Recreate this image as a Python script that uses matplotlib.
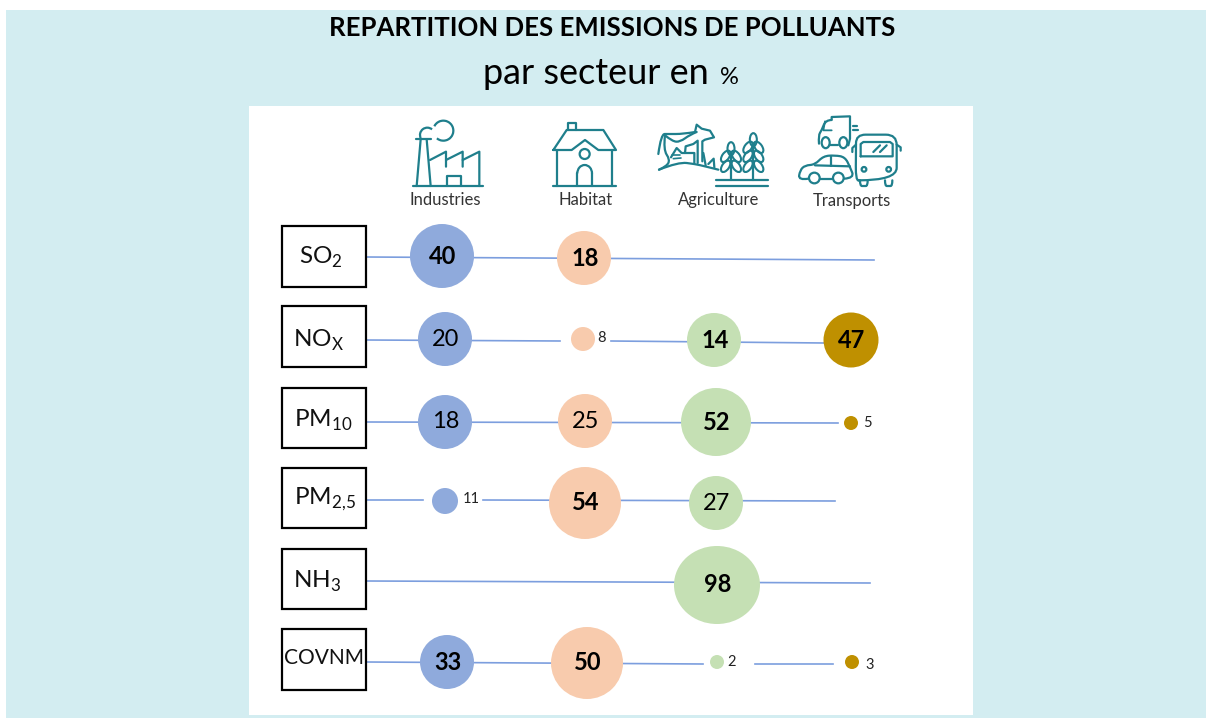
import matplotlib
matplotlib.use('Agg')
import matplotlib.pyplot as plt
from matplotlib.patches import Rectangle, Circle, Ellipse, PathPatch, Arc
from matplotlib.path import Path

plt.rcParams['font.family'] = ['Lato', 'DejaVu Sans']
plt.rcParams['mathtext.fontset'] = 'custom'
plt.rcParams['mathtext.rm'] = 'Lato'

# data
sectors = ['Industries', 'Habitat', 'Agriculture', 'Transports']
pollutants = ['SO$_{2}$', 'NO$_{\\mathrm{X}}$', 'PM$_{10}$', 'PM$_{2{,}5}$', 'NH$_{3}$', 'COVNM']
so2 = [40, 18, None, None]
nox = [20, 8, 14, 47]
pm10 = [18, 25, 52, 5]
pm25 = [11, 54, 27, None]
nh3 = [None, None, 98, None]
covnm = [33, 50, 2, 3]
values = [so2, nox, pm10, pm25, nh3, covnm]

# layout, all in image pixels
BG = '#d3edf1'
TEAL = '#1f7f8c'
LINE = '#7c9ede'
colors = ['#8faadc', '#f8cbad', '#c5e0b4', '#bf9000']
box_tops = [226, 306, 388, 468, 549, 629]
box_bottoms = [287, 367, 448, 528, 609, 690]
label_x = [321, 319, 323, 325, 317, 324]
label_y = [257, 340, 420, 499, 581, 658]
label_size = [17.5, 17.5, 17.5, 17.5, 17.5, 15]
centers_x = [[442, 584, 0, 0], [445, 583, 714, 851], [445, 585, 716, 851],
             [445, 585, 716, 0], [0, 0, 717, 0], [447, 587, 717, 852]]
centers_y = [[256, 258, 0, 0], [339, 339, 340, 340], [422, 421, 422, 423],
             [501, 503, 503, 0], [0, 0, 585, 0], [662, 663, 662, 662]]
radius = [[32, 27, 0, 0], [27, 12, 27, 27.5], [27, 27, 35, 7],
          [13, 36, 27, 0], [0, 0, 43, 0], [27, 36, 7, 7]]
radius_y = [[32, 27, 0, 0], [27, 12, 27, 27.5], [27, 27, 34, 7],
            [13, 36, 27, 0], [0, 0, 39, 0], [27, 36, 7, 7]]
bold = [[1, 1, 0, 0], [0, 0, 1, 1], [0, 0, 1, 0],
        [0, 1, 0, 0], [0, 0, 1, 0], [1, 1, 0, 0]]
small_dx = [[0, 0, 0, 0], [0, 18, 0, 0], [0, 0, 0, 16],
            [26, 0, 0, 0], [0, 0, 0, 0], [0, 0, 15, 18]]
small_dy = [[0, 0, 0, 0], [0, -1, 0, 0], [0, 0, 0, 0],
            [-2, 0, 0, 0], [0, 0, 0, 0], [0, 0, 0, 3]]
segments = [[(366, 257, 874, 260)],
            [(366, 340, 560, 341), (611, 341, 824, 343)],
            [(366, 422, 838, 423)],
            [(366, 500, 423, 500), (483, 500, 835, 501)],
            [(366, 581, 870, 583)],
            [(366, 662, 703, 664), (755, 664, 833, 664)]]
header_x = [445, 586, 719, 852]
header_y = [200, 200, 200, 201]

fig = plt.figure(figsize=(12.06, 7.2), dpi=100)
ax = fig.add_axes([0, 0, 1, 1])
ax.set_xlim(0, 1206)
ax.set_ylim(720, 0)
ax.axis('off')

ax.add_patch(Rectangle((6, 10), 1200, 708, color=BG, lw=0))
ax.add_patch(Rectangle((249, 106), 724, 609, color='white', lw=0))

ax.text(612, 36, 'REPARTITION DES EMISSIONS DE POLLUANTS', ha='center', va='baseline',
        fontsize=18.5, color='black', fontweight='bold')
ax.text(483, 84, 'par secteur en', ha='left', va='baseline', fontsize=26, color='black')
ax.text(720, 84, '%', ha='left', va='baseline', fontsize=17, color='black')


def pl(pts, ox, oy, lw=1.6):
    ax.plot([ox + p[0] / 3 for p in pts], [oy + p[1] / 3 for p in pts],
            color=TEAL, lw=lw, solid_capstyle='round', solid_joinstyle='round')


def curve(pts, ox, oy, lw=1.6):
    # smooth line through the midpoints of the given control points
    xy = [(ox + p[0] / 3, oy + p[1] / 3) for p in pts]
    verts = [xy[0]]
    codes = [Path.MOVETO]
    for k in range(1, len(xy) - 1):
        end = xy[k + 1] if k == len(xy) - 2 else ((xy[k][0] + xy[k + 1][0]) / 2, (xy[k][1] + xy[k + 1][1]) / 2)
        verts += [xy[k], end]
        codes += [Path.CURVE3, Path.CURVE3]
    ax.add_patch(PathPatch(Path(verts, codes), fill=False, ec=TEAL, lw=lw, capstyle='round'))


def ring(cx, cy, r, ox, oy, lw=1.6):
    ax.add_patch(Circle((ox + cx / 3, oy + cy / 3), r / 3, fill=False, ec=TEAL, lw=lw))


def arc(cx, cy, w, h, t1, t2, ox, oy):
    ax.add_patch(Arc((ox + cx / 3, oy + cy / 3), w / 3, h / 3, theta1=t1, theta2=t2,
                     color=TEAL, lw=1.6))


def draw_factory(ox=390, oy=105):
    pl([(68, 243), (278, 243)], ox, oy)
    pl([(80, 243), (92, 103)], ox, oy)
    pl([(122, 243), (110, 103)], ox, oy)
    pl([(78, 103), (122, 103)], ox, oy)
    pl([(120, 165), (168, 140), (168, 185)], ox, oy)
    pl([(168, 165), (218, 140), (218, 185)], ox, oy)
    pl([(218, 165), (268, 140), (268, 243)], ox, oy)
    pl([(170, 243), (170, 212), (212, 212), (212, 243)], ox, oy)
    arc(112, 90, 44, 44, 155, 310, ox, oy)
    arc(160, 77, 60, 60, 206, 130, ox, oy)


def draw_house(ox=390, oy=105):
    pl([(488, 243), (678, 243)], ox, oy)
    pl([(502, 135), (502, 243)], ox, oy)
    pl([(665, 135), (665, 243)], ox, oy)
    pl([(490, 135), (530, 75), (640, 75), (678, 135), (625, 135), (585, 105), (545, 135), (490, 135)], ox, oy)
    pl([(535, 75), (535, 53), (558, 53), (558, 75)], ox, oy)
    ring(584, 147, 15, ox, oy)
    pl([(562, 243), (562, 205)], ox, oy)
    pl([(606, 243), (606, 205)], ox, oy)
    arc(584, 205, 44, 50, 180, 360, ox, oy)


def wheat(x, rows, top, ox, oy):
    pl([(x, 185), (x, rows[0] - 12)], ox, oy)
    ax.add_patch(Ellipse((ox + x / 3, oy + top / 3), 7, 13, fill=False, ec=TEAL, lw=1.5))
    for yy in rows:
        for sgn in (-1, 1):
            ax.add_patch(Ellipse((ox + (x + sgn * 16) / 3, oy + yy / 3), 7, 13, angle=sgn * -35,
                                 fill=False, ec=TEAL, lw=1.5))


def draw_farm(ox=655, oy=118):
    curve([(10, 108), (18, 48), (40, 48), (85, 48), (120, 42)], ox, oy)
    pl([(120, 42), (125, 20), (140, 32), (165, 38), (177, 58), (150, 65), (142, 70), (142, 130)], ox, oy)
    curve([(30, 52), (52, 70), (75, 72), (105, 50), (125, 42)], ox, oy)
    curve([(30, 52), (25, 95), (45, 125), (35, 145), (12, 155)], ox, oy)
    curve([(12, 155), (70, 132), (120, 138), (150, 145), (190, 155)], ox, oy)
    pl([(48, 118), (65, 90), (80, 105), (118, 105), (118, 135)], ox, oy)
    pl([(90, 105), (92, 85), (115, 78), (128, 68), (128, 135)], ox, oy)
    pl([(50, 112), (75, 112)], ox, oy, lw=1.2)
    pl([(55, 122), (78, 120)], ox, oy, lw=1.2)
    pl([(145, 105), (152, 142)], ox, oy)
    pl([(160, 138), (176, 122), (178, 148)], ox, oy)
    wheat(228, [115, 145], 92, ox, oy)
    wheat(295, [88, 115, 145], 65, ox, oy)
    pl([(182, 185), (340, 185)], ox, oy)
    pl([(182, 205), (340, 205)], ox, oy)


def draw_vehicles(ox=795, oy=112):
    # truck
    pl([(110, 22), (110, 15), (165, 13), (165, 80), (160, 100)], ox, oy)
    pl([(105, 100), (130, 100)], ox, oy)
    curve([(110, 24), (92, 24), (80, 55), (70, 70), (72, 95)], ox, oy)
    pl([(90, 28), (85, 55), (110, 55)], ox, oy, lw=1.3)
    ax.add_patch(Ellipse((ox + 92 / 3, oy + 92 / 3), 8, 11, fill=False, ec=TEAL, lw=1.6))
    ax.add_patch(Ellipse((ox + 145 / 3, oy + 92 / 3), 8, 11, fill=False, ec=TEAL, lw=1.6))
    pl([(175, 43), (187, 43)], ox, oy)
    pl([(173, 55), (190, 55)], ox, oy)
    # bus
    curve([(190, 205), (182, 205), (183, 120), (183, 68), (240, 68), (305, 68), (305, 130), (305, 205), (190, 205)], ox, oy)
    pl([(183, 98), (172, 108), (172, 120)], ox, oy)
    pl([(305, 98), (317, 106), (317, 116)], ox, oy)
    pl([(197, 133), (197, 96), (205, 90), (285, 90), (293, 96), (293, 133), (197, 133)], ox, oy)
    pl([(235, 120), (255, 100)], ox, oy)
    pl([(255, 120), (275, 100)], ox, oy)
    ring(207, 172, 7, ox, oy)
    ring(281, 172, 7, ox, oy)
    curve([(195, 205), (195, 222), (207, 222), (218, 222), (218, 205)], ox, oy)
    curve([(270, 205), (270, 222), (281, 222), (292, 222), (292, 205)], ox, oy)
    # car
    curve([(40, 200), (10, 205), (15, 175), (30, 160), (60, 158), (85, 132), (120, 130),
           (150, 135), (165, 165), (178, 198), (148, 200)], ox, oy)
    pl([(75, 200), (112, 200)], ox, oy)
    pl([(60, 160), (165, 163)], ox, oy)
    pl([(108, 132), (108, 162)], ox, oy)
    ring(58, 198, 16, ox, oy)
    ring(130, 198, 16, ox, oy)


draw_factory()
draw_house()
draw_farm()
draw_vehicles()

for name, x, y in zip(sectors, header_x, header_y):
    ax.text(x, y, name, ha='center', va='center', fontsize=12, color='#333333')

for i, row in enumerate(values):
    ax.add_patch(Rectangle((282, box_tops[i]), 84, box_bottoms[i] - box_tops[i],
                           fill=False, ec='black', lw=1.6, zorder=4))
    ax.text(label_x[i], label_y[i], pollutants[i], ha='center', va='center',
            fontsize=label_size[i], color='#111111', zorder=5)
    for x1, y1, x2, y2 in segments[i]:
        ax.plot([x1, x2], [y1, y2], color=LINE, lw=1.2, zorder=1)
    for j, v in enumerate(row):
        if v is None:
            continue
        cx, cy, r = centers_x[i][j], centers_y[i][j], radius[i][j]
        ax.add_patch(Ellipse((cx, cy), 2 * r, 2 * radius_y[i][j], color=colors[j], lw=0, zorder=2))
        if r < 20:
            ax.text(cx + small_dx[i][j], cy + small_dy[i][j], str(v), ha='center', va='center',
                    fontsize=10.5, color='#222222', zorder=3)
        else:
            ax.text(cx + 1, cy, str(v), ha='center', va='center', fontsize=17,
                    fontweight='bold' if bold[i][j] else 'normal', color='black', zorder=3)

fig.savefig('out.png', dpi=100)
